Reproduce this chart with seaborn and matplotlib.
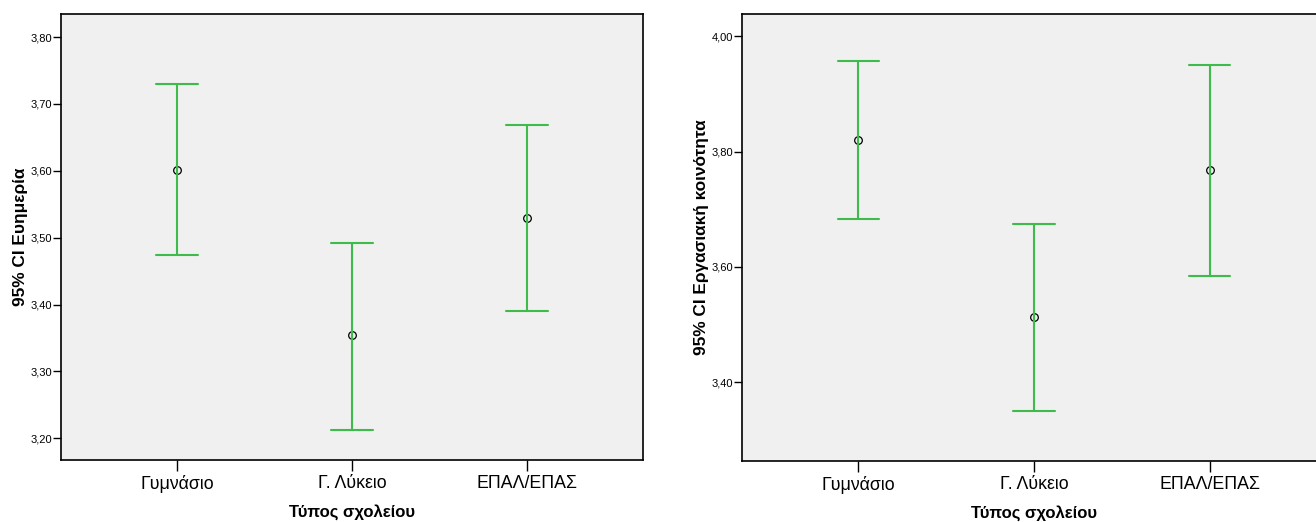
import numpy as np
import pandas as pd
import matplotlib
matplotlib.use("Agg")
import matplotlib.pyplot as plt
import seaborn as sns

# School types
categories = ["Γυμνάσιο", "Γ. Λύκειο", "ΕΠΑΛ/ΕΠΑΣ"]

# Well-being: mean and 95% CI bounds
wellbeing_mean = [3.601, 3.354, 3.530]
wellbeing_low = [3.474, 3.213, 3.391]
wellbeing_high = [3.730, 3.492, 3.668]

# Work community: mean and 95% CI bounds
community_mean = [3.821, 3.513, 3.768]
community_low = [3.684, 3.351, 3.584]
community_high = [3.958, 3.674, 3.950]

# Axis tick values
wellbeing_ticks = [3.20, 3.30, 3.40, 3.50, 3.60, 3.70, 3.80]
community_ticks = [3.40, 3.60, 3.80, 4.00]

GREEN = "#3dbb4b"
PANEL_BG = "#f0f0f0"

sns.set_theme(style="ticks")
plt.rcParams["font.family"] = ["Liberation Sans", "DejaVu Sans"]


def long_frame(low, mid, high):
    rows = []
    for cat, lo, m, hi in zip(categories, low, mid, high):
        for v in (lo, m, hi):
            rows.append({"group": cat, "value": v})
    return pd.DataFrame(rows)


def draw_panel(ax, low, mid, high, ticks, ylim, ylabel):
    df = long_frame(low, mid, high)
    # median of (low, mean, high) is the mean; the full range is the CI
    sns.pointplot(
        data=df, x="group", y="value", order=categories, ax=ax,
        estimator="median", errorbar=("pi", 100),
        color="black", linestyle="none", marker="o", markersize=5.5,
        markerfacecolor="none", markeredgewidth=0.9,
        capsize=0.235, err_kws={"color": GREEN, "linewidth": 1.5},
    )
    ax.set_facecolor(PANEL_BG)
    ax.set_xlim(-0.663, 2.663)
    ax.set_ylim(*ylim)
    ax.set_yticks(ticks)
    ax.set_yticklabels([f"{t:.2f}".replace(".", ",") for t in ticks])
    ax.tick_params(axis="y", labelsize=8, length=5.5, width=1, pad=1,
                   color="black", labelcolor="black")
    ax.tick_params(axis="x", labelsize=12.8, length=8, width=1, pad=2.5,
                   color="black", labelcolor="black")
    for s in ax.spines.values():
        s.set_visible(True)
        s.set_color("black")
        s.set_linewidth(1.2)
    ax.set_xlabel("Τύπος σχολείου", fontsize=12, fontweight="bold",
                  labelpad=8, color="black")
    ax.set_ylabel(ylabel, fontsize=12.4, fontweight="bold",
                  labelpad=1.5, color="black")


fig = plt.figure(figsize=(13.16, 5.22), dpi=100)
ax1 = fig.add_axes([61 / 1316, 1 - 460 / 522, 582 / 1316, 446 / 522])
ax2 = fig.add_axes([742 / 1316, 1 - 461 / 522, 584 / 1316, 447 / 522])

draw_panel(ax1, wellbeing_low, wellbeing_mean, wellbeing_high,
           wellbeing_ticks, (3.1675, 3.8344), "95% CI Ευημερία")
draw_panel(ax2, community_low, community_mean, community_high,
           community_ticks, (3.2635, 4.0387), "95% CI Εργασιακή κοινότητα")

fig.savefig("out.png", dpi=100, facecolor="white")
